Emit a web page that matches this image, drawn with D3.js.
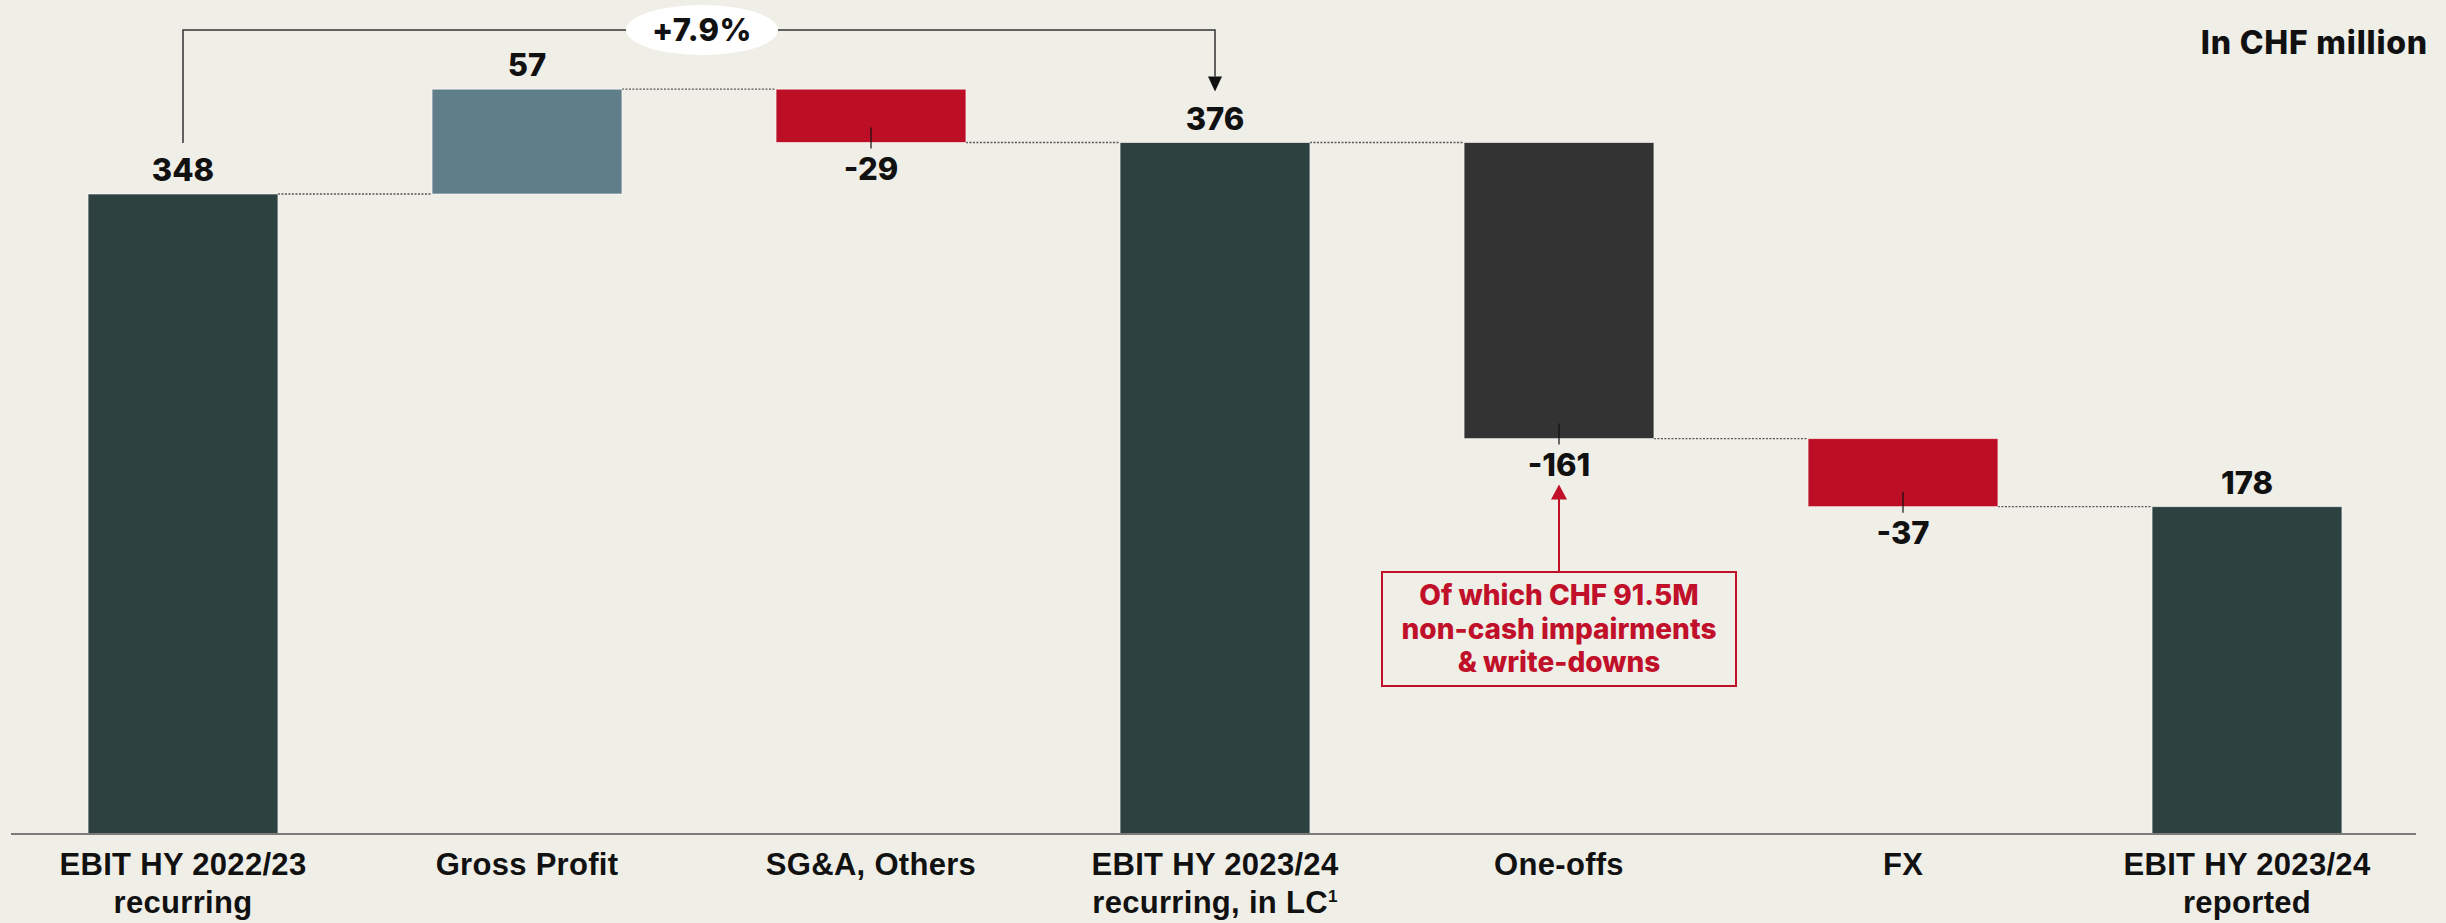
<!DOCTYPE html>
<html>
<head>
<meta charset="utf-8">
<script src="https://cdn.jsdelivr.net/npm/d3@7"></script>
<style>
  html, body { margin: 0; padding: 0; background: #efeee7; }
  svg { display: block; font-family: Inter, "Open Sans", sans-serif; }
</style>
</head>
<body>
<svg id="chart" width="2446" height="923"></svg>
<script>
// chart data
var categories = ["EBIT HY 2022/23|recurring", "Gross Profit", "SG&A, Others", "EBIT HY 2023/24|recurring, in LC", "One-offs", "FX", "EBIT HY 2023/24|reported"];
var values = [348, 57, -29, 376, -161, -37, 178];
var isTotal = [true, false, false, true, false, false, true];
var growthLabel = "+7.9%";
var unitLabel = "In CHF million";
var noteLines = ["Of which CHF 91.5M", "non-cash impairments", "& write-downs"];

// colours per bar (style, kept apart from data)
var barColors = ["#2c4140", "#607d8a", "#bc0e24", "#2c4140", "#333333", "#bc0e24", "#2c4140"];

var svg = d3.select("#chart");
var baseY = 834;

// x scale: one band per category
var x = d3.scaleBand()
	.domain(d3.range(categories.length))
	.range([11, 2419])
	.paddingInner(0.448)
	.paddingOuter(0.224);

// y scale: value -> pixel
var y = d3.scaleLinear().domain([0, 348]).range([baseY, 194]);

// work out start/end of every waterfall step
var steps = [];
var running = 0;
values.forEach(function(v, i){
	var start, end;
	if(isTotal[i]){ start = 0; end = v; running = v; }
	else { start = running; end = running + v; running = end; }
	steps.push({i: i, v: v, start: start, end: end, total: isTotal[i]});
});

// dotted connectors between bars
for(var i = 0; i < steps.length - 1; i++){
	var lvl = steps[i].end;
	svg.append("line")
		.attr("x1", x(i) + x.bandwidth())
		.attr("x2", x(i + 1))
		.attr("y1", y(lvl)).attr("y2", y(lvl))
		.attr("stroke", "#555").attr("stroke-width", 1.3)
		.attr("stroke-dasharray", "2,1.5");
}

// bars
svg.selectAll("rect.bar").data(steps).enter().append("rect")
	.attr("class", "bar")
	.attr("x", function(d){ return x(d.i); })
	.attr("width", x.bandwidth())
	.attr("y", function(d){ return y(Math.max(d.start, d.end)); })
	.attr("height", function(d){ return Math.abs(y(d.start) - y(d.end)); })
	.attr("fill", function(d){ return barColors[d.i]; })
	.attr("stroke", "#ffffff").attr("stroke-opacity", 0.6).attr("stroke-width", 1);

// small ticks at the bottom of negative bars
steps.filter(function(d){ return d.v < 0; }).forEach(function(d){
	var cx = x(d.i) + x.bandwidth() / 2;
	svg.append("line")
		.attr("x1", cx).attr("x2", cx)
		.attr("y1", y(d.end) - 15).attr("y2", y(d.end) + 6)
		.attr("stroke", "#111").attr("stroke-width", 1.2);
});

// value labels
svg.selectAll("text.val").data(steps).enter().append("text")
	.attr("class", "val")
	.attr("x", function(d){ return x(d.i) + x.bandwidth() / 2; })
	.attr("y", function(d){ return d.v < 0 ? y(d.end) + 37 : y(d.end) - 13; })
	.attr("text-anchor", "middle")
	.attr("font-size", "31px").attr("font-weight", 800).attr("fill", "#111")
	.text(function(d){ return d.v; });

// x axis with two-line labels
var axis = svg.append("g")
	.attr("transform", "translate(0," + baseY + ")")
	.call(d3.axisBottom(x).tickSize(0).tickFormat(""));
axis.select(".domain").attr("stroke", "#7a7a7a").attr("stroke-width", 2)
	.attr("d", "M11,0H2416");
axis.selectAll(".tick text").remove();
axis.selectAll(".tick").each(function(d){
	var lines = categories[d].split("|");
	var t = d3.select(this).append("text")
		.attr("text-anchor", "middle")
		.attr("font-size", "31px").attr("font-weight", 800).attr("fill", "#111")
		.attr("letter-spacing", "0.3px");
	lines.forEach(function(l, k){
		t.append("tspan").attr("x", 0).attr("y", 41 + k * 38).text(l);
		if(d == 3 && k == 1){
			t.append("tspan").attr("dy", -11).attr("font-size", "17px").text("1");
		}
	});
});

// unit label top right
svg.append("text")
	.attr("x", 2428).attr("y", 54)
	.attr("text-anchor", "end")
	.attr("font-size", "32px").attr("font-weight", 800).attr("fill", "#111")
	.attr("letter-spacing", "0.8px")
	.text(unitLabel);

// growth bracket from first total to second total
var cx0 = x(0) + x.bandwidth() / 2;
var cx3 = x(3) + x.bandwidth() / 2;
var bracketY = 30;
svg.append("path")
	.attr("d", "M" + cx0 + "," + (y(values[0]) - 51) + "V" + bracketY + "H" + cx3 + "V" + (y(values[3]) - 66))
	.attr("fill", "none").attr("stroke", "#333").attr("stroke-width", 1.5);
svg.append("path")
	.attr("d", "M" + (cx3 - 7) + "," + (y(values[3]) - 66) + "L" + (cx3 + 7) + "," + (y(values[3]) - 66) + "L" + cx3 + "," + (y(values[3]) - 51) + "Z")
	.attr("fill", "#111");
var midX = (x(1) + x(2) + x.bandwidth()) / 2;
svg.append("ellipse")
	.attr("cx", midX + 3).attr("cy", bracketY).attr("rx", 76).attr("ry", 25)
	.attr("fill", "#ffffff");
svg.append("text")
	.attr("x", midX + 3).attr("y", bracketY + 11)
	.attr("text-anchor", "middle")
	.attr("font-size", "31px").attr("font-weight", 800).attr("fill", "#111")
	.attr("letter-spacing", "0.5px")
	.text(growthLabel);

// note box for one-offs
var cx4 = x(4) + x.bandwidth() / 2;
var boxTop = 572, boxW = 354, boxH = 114;
var red = "#c0102a";
svg.append("line")
	.attr("x1", cx4).attr("x2", cx4)
	.attr("y1", boxTop).attr("y2", y(steps[4].end) + 58)
	.attr("stroke", red).attr("stroke-width", 2);
svg.append("path")
	.attr("d", "M" + (cx4 - 8) + "," + (y(steps[4].end) + 61) + "L" + (cx4 + 8) + "," + (y(steps[4].end) + 61) + "L" + cx4 + "," + (y(steps[4].end) + 46) + "Z")
	.attr("fill", red);
svg.append("rect")
	.attr("x", cx4 - boxW / 2).attr("y", boxTop)
	.attr("width", boxW).attr("height", boxH)
	.attr("fill", "#efeee7").attr("stroke", red).attr("stroke-width", 2);
noteLines.forEach(function(l, k){
	svg.append("text")
		.attr("x", cx4).attr("y", boxTop + 33 + k * 33.5)
		.attr("text-anchor", "middle")
		.attr("font-size", "28px").attr("font-weight", 800).attr("fill", red)
		.text(l);
});
</script>
</body>
</html>
